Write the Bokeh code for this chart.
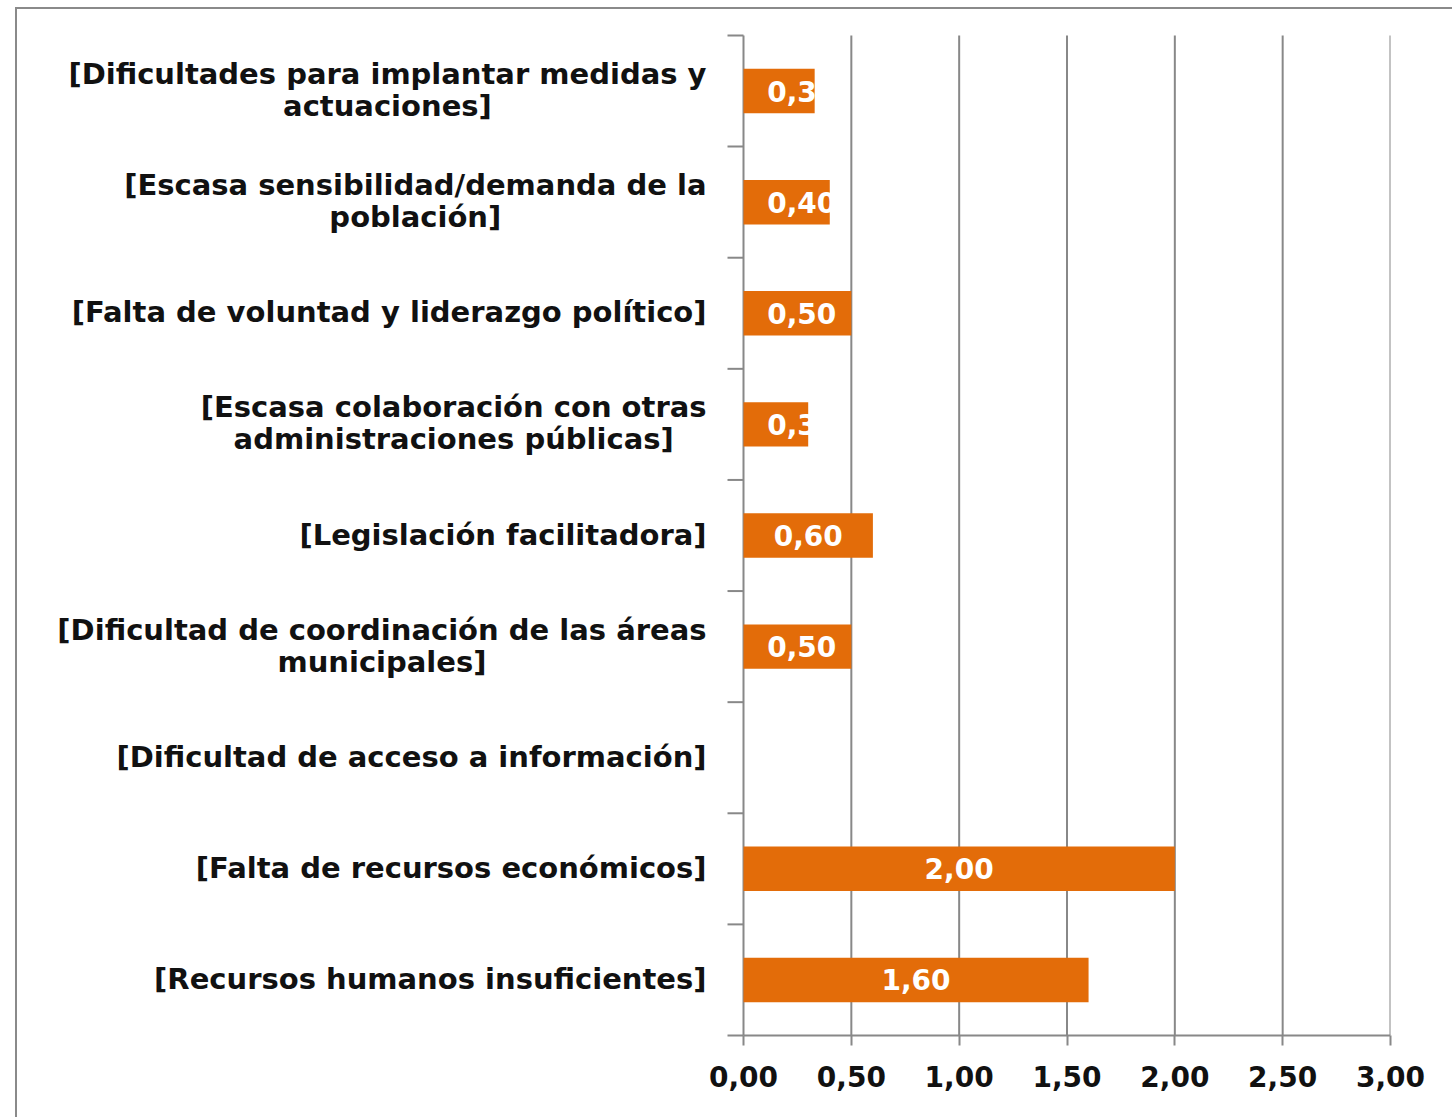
import glob
from bokeh.plotting import figure
from bokeh.models import Range1d, FixedTicker, CustomJSTickFormatter, ColumnDataSource
from bokeh.core.properties import value
from bokeh.embed import file_html
from bokeh.resources import INLINE

# Data (bottom to top, as in the original chart)
categories = [
    "[Recursos humanos insuficientes]",
    "[Falta de recursos económicos]",
    "[Dificultad de acceso a información]",
    "[Dificultad de coordinación de las áreas\nmunicipales]",
    "[Legislación facilitadora]",
    "[Escasa colaboración con otras\nadministraciones públicas]",
    "[Falta de voluntad y liderazgo político]",
    "[Escasa sensibilidad/demanda de la\npoblación]",
    "[Dificultades para implantar medidas y\nactuaciones]",
]
values = [1.60, 2.00, 0.0, 0.50, 0.60, 0.30, 0.50, 0.40, 0.33]
x_ticks = [0.0, 0.5, 1.0, 1.5, 2.0, 2.5, 3.0]

n = len(categories)
centers = [i + 0.5 for i in range(n)]
bounds = [float(i) for i in range(n + 1)]

BAR = "#E36C09"
GRID = "#888888"
CAT_FONT = "DejaVu Sans"
CAT_SIZE = 29
LINE_GAP = 32      # px between line centres
LABEL_GAP = 37     # px between label block and axis
TICK_OUT = 16      # px, category boundary ticks

# layout (pixels)
LABEL_PX = 726     # space left of the value axis
PLOT_PX = 647      # width of 0..3
PLOT_PY = 1000     # height of the category band
PAD = 2            # small pad so edge lines are not clipped
CANVAS_W, CANVAS_H = 1435, 1108
TOP = 24

xmax = x_ticks[-1]
ppx = PLOT_PX / xmax
ppy = PLOT_PY / n
x0 = -LABEL_PX / ppx
e = PAD / ppy

# text measurement for centring the lines of each category label
_measure = None
try:
    from PIL import ImageFont
    paths = (glob.glob("/usr/share/fonts/**/DejaVuSans-Bold.ttf", recursive=True)
             + glob.glob("/usr/**/DejaVuSans-Bold.ttf", recursive=True))
    if paths:
        _f = ImageFont.truetype(paths[0], CAT_SIZE)
        _f.getlength("x")
        _measure = lambda s: _f.getlength(s)
except Exception:
    _measure = None
if _measure is None:
    _measure = lambda s: len(s) * 0.68 * CAT_SIZE

frame_h = PLOT_PY + 2 * PAD
p = figure(
    output_backend="svg", toolbar_location=None,
    x_range=Range1d(x0, xmax), y_range=Range1d(-e, n + e),
    frame_width=LABEL_PX + PLOT_PX, frame_height=frame_h,
    min_border_left=0, min_border_right=CANVAS_W - LABEL_PX - PLOT_PX,
    min_border_top=TOP, min_border_bottom=CANVAS_H - TOP - frame_h,
)
p.styles = {"margin-left": "15px", "margin-top": "7px",
            "border-left": "2px solid #8a8a8a", "border-top": "2px solid #8a8a8a"}
p.outline_line_color = None
p.background_fill_color = "white"
p.border_fill_color = "white"
p.xgrid.grid_line_color = None
p.ygrid.grid_line_color = None
p.yaxis.visible = False

# vertical grid lines (x=0 is the category axis line)
p.segment(x0=x_ticks, x1=x_ticks, y0=[0] * len(x_ticks), y1=[n] * len(x_ticks),
          line_color=GRID, line_width=2)
# category boundary ticks
p.segment(x0=[-TICK_OUT / ppx] * len(bounds), x1=[0] * len(bounds),
          y0=bounds, y1=bounds, line_color=GRID, line_width=2)
# value axis line
p.segment(x0=[0], x1=[xmax], y0=[0], y1=[0], line_color=GRID, line_width=2)

src = ColumnDataSource(dict(y=centers, v=values))
p.hbar(y="y", left=0, right="v", height=0.4, source=src,
       fill_color=BAR, line_color=None)

lab_y = [c for c, v in zip(centers, values) if v > 0]
lab_v = [v for v in values if v > 0]
lab_x = [max(v / 2, 0.27) for v in lab_v]
lab_t = [f"{v:.2f}".replace(".", ",") for v in lab_v]
p.text(x=lab_x, y=lab_y, text=lab_t, text_color="white",
       text_font=value("DejaVu Sans"), text_font_style="bold",
       text_font_size="28px", text_align="center", text_baseline="middle")

# category labels: block right-aligned to the axis, lines centred in the block
cx, cy, cxo, cyo, ct = [], [], [], [], []
for c, lab in zip(centers, categories):
    lines = lab.split("\n")
    w = max(_measure(s) for s in lines)
    k = len(lines)
    for j, s in enumerate(lines):
        cx.append(0.0)
        cy.append(c)
        cxo.append(-(LABEL_GAP + w / 2))
        cyo.append((j - (k - 1) / 2) * LINE_GAP - 1)
        ct.append(s)
p.text(x="x", y="y", text="t", x_offset="xo", y_offset="yo",
       source=ColumnDataSource(dict(x=cx, y=cy, xo=cxo, yo=cyo, t=ct)),
       text_align="center", text_baseline="middle",
       text_font=value(CAT_FONT), text_font_style="bold",
       text_font_size=f"{CAT_SIZE}px", text_color="#111111")

# x axis (ticks and labels only; its line is drawn above)
xa = p.xaxis[0]
xa.ticker = FixedTicker(ticks=x_ticks, minor_ticks=[])
xa.formatter = CustomJSTickFormatter(code="return tick.toFixed(2).replace('.', ',');")
xa.axis_line_color = None
xa.major_tick_line_color = GRID
xa.major_tick_line_width = 2
xa.major_tick_out = 8
xa.major_tick_in = PAD
xa.minor_tick_line_color = None
xa.major_label_standoff = 20
xa.major_label_text_font = "DejaVu Sans"
xa.major_label_text_font_style = "bold"
xa.major_label_text_font_size = "28px"
xa.major_label_text_color = "#111111"

open("out.html", "w").write(file_html(p, INLINE))
